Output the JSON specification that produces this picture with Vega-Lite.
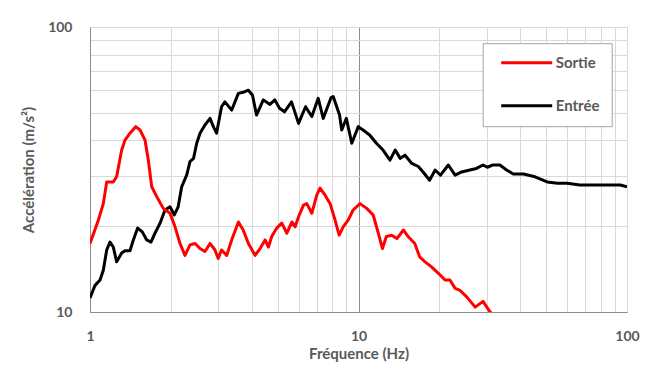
{
  "$schema": "https://vega.github.io/schema/vega-lite/v6.json",
  "width": 537,
  "height": 285,
  "autosize": {"type": "none"},
  "padding": {"left": 90, "top": 27, "right": 24, "bottom": 55},
  "background": "white",
  "config": {
    "view": {"stroke": "#8c8c8c", "strokeWidth": 1},
    "font": "Lato"
  },
  "datasets": {
    "sortie": [
      {"f": 1.0, "a": 17.4}, {"f": 1.074, "a": 21.0}, {"f": 1.121, "a": 24.0}, {"f": 1.154, "a": 28.6},
      {"f": 1.221, "a": 28.6}, {"f": 1.257, "a": 29.9}, {"f": 1.312, "a": 37.0}, {"f": 1.35, "a": 40.1},
      {"f": 1.409, "a": 42.4}, {"f": 1.48, "a": 44.7}, {"f": 1.536, "a": 43.5}, {"f": 1.603, "a": 40.1},
      {"f": 1.649, "a": 34.1}, {"f": 1.698, "a": 27.5}, {"f": 1.772, "a": 25.4}, {"f": 1.875, "a": 23.1},
      {"f": 1.986, "a": 22.2}, {"f": 2.073, "a": 19.9}, {"f": 2.163, "a": 17.4}, {"f": 2.258, "a": 15.8},
      {"f": 2.357, "a": 17.2}, {"f": 2.461, "a": 17.4}, {"f": 2.569, "a": 16.7}, {"f": 2.68, "a": 16.3},
      {"f": 2.8, "a": 17.4}, {"f": 2.92, "a": 16.5}, {"f": 3.003, "a": 15.4}, {"f": 3.09, "a": 16.5},
      {"f": 3.23, "a": 15.8}, {"f": 3.37, "a": 17.9}, {"f": 3.57, "a": 20.7}, {"f": 3.72, "a": 19.4},
      {"f": 3.89, "a": 17.4}, {"f": 4.12, "a": 15.8}, {"f": 4.3, "a": 16.7}, {"f": 4.49, "a": 17.9},
      {"f": 4.62, "a": 16.9}, {"f": 4.75, "a": 18.4}, {"f": 4.96, "a": 19.7}, {"f": 5.18, "a": 20.5},
      {"f": 5.41, "a": 18.9}, {"f": 5.65, "a": 20.7}, {"f": 5.81, "a": 19.9}, {"f": 5.98, "a": 21.6},
      {"f": 6.24, "a": 23.7}, {"f": 6.42, "a": 24.0}, {"f": 6.7, "a": 22.2}, {"f": 6.99, "a": 25.7},
      {"f": 7.19, "a": 27.2}, {"f": 7.51, "a": 25.7}, {"f": 7.84, "a": 24.0}, {"f": 8.18, "a": 21.0},
      {"f": 8.47, "a": 18.6}, {"f": 8.77, "a": 19.9}, {"f": 9.15, "a": 21.0}, {"f": 9.55, "a": 22.8},
      {"f": 10.13, "a": 24.0}, {"f": 10.73, "a": 23.1}, {"f": 11.34, "a": 21.9}, {"f": 11.85, "a": 18.9},
      {"f": 12.28, "a": 16.7}, {"f": 12.7, "a": 18.4}, {"f": 13.3, "a": 18.6}, {"f": 13.9, "a": 18.1},
      {"f": 14.7, "a": 19.4}, {"f": 15.3, "a": 18.4}, {"f": 16.2, "a": 17.4}, {"f": 16.9, "a": 15.6},
      {"f": 17.7, "a": 15.0}, {"f": 18.7, "a": 14.4}, {"f": 19.8, "a": 13.7}, {"f": 21.0, "a": 12.95},
      {"f": 21.9, "a": 12.95}, {"f": 22.9, "a": 12.1}, {"f": 23.9, "a": 11.9}, {"f": 25.3, "a": 11.3},
      {"f": 27.2, "a": 10.4}, {"f": 29.1, "a": 10.9}, {"f": 30.9, "a": 10.0}, {"f": 31.8, "a": 9.8}
    ],
    "entree": [
      {"f": 1.0, "a": 11.2}, {"f": 1.044, "a": 12.4}, {"f": 1.09, "a": 12.95}, {"f": 1.121, "a": 14.0},
      {"f": 1.154, "a": 16.5}, {"f": 1.187, "a": 17.6}, {"f": 1.221, "a": 16.9}, {"f": 1.257, "a": 15.0},
      {"f": 1.312, "a": 16.1}, {"f": 1.35, "a": 16.4}, {"f": 1.409, "a": 16.4}, {"f": 1.45, "a": 17.9},
      {"f": 1.505, "a": 19.7}, {"f": 1.566, "a": 19.1}, {"f": 1.626, "a": 17.9}, {"f": 1.687, "a": 17.6},
      {"f": 1.746, "a": 18.9}, {"f": 1.824, "a": 20.5}, {"f": 1.902, "a": 22.8}, {"f": 1.986, "a": 23.4},
      {"f": 2.06, "a": 21.9}, {"f": 2.13, "a": 23.4}, {"f": 2.195, "a": 27.5}, {"f": 2.293, "a": 30.3},
      {"f": 2.357, "a": 33.7}, {"f": 2.43, "a": 34.6}, {"f": 2.497, "a": 39.1}, {"f": 2.569, "a": 42.4},
      {"f": 2.68, "a": 45.3}, {"f": 2.8, "a": 47.8}, {"f": 2.88, "a": 44.7}, {"f": 2.96, "a": 42.4},
      {"f": 3.09, "a": 52.5}, {"f": 3.18, "a": 54.6}, {"f": 3.37, "a": 51.1}, {"f": 3.57, "a": 58.5},
      {"f": 3.72, "a": 59.0}, {"f": 3.89, "a": 60.0}, {"f": 4.03, "a": 57.6}, {"f": 4.17, "a": 49.1},
      {"f": 4.42, "a": 55.5}, {"f": 4.68, "a": 53.5}, {"f": 4.88, "a": 55.5}, {"f": 5.08, "a": 51.9},
      {"f": 5.3, "a": 50.4}, {"f": 5.63, "a": 54.6}, {"f": 5.98, "a": 45.9}, {"f": 6.35, "a": 52.5},
      {"f": 6.7, "a": 48.5}, {"f": 7.08, "a": 56.2}, {"f": 7.39, "a": 47.8}, {"f": 7.9, "a": 56.5},
      {"f": 8.05, "a": 57.0}, {"f": 8.5, "a": 49.1}, {"f": 8.66, "a": 43.5}, {"f": 9.01, "a": 47.8},
      {"f": 9.44, "a": 39.1}, {"f": 9.98, "a": 44.7}, {"f": 10.4, "a": 43.5}, {"f": 11.0, "a": 41.8},
      {"f": 11.66, "a": 39.1}, {"f": 12.34, "a": 37.0}, {"f": 13.1, "a": 34.1}, {"f": 13.7, "a": 37.0},
      {"f": 14.3, "a": 34.6}, {"f": 14.9, "a": 35.5}, {"f": 15.8, "a": 33.2}, {"f": 16.7, "a": 32.4},
      {"f": 17.4, "a": 31.0}, {"f": 18.4, "a": 29.0}, {"f": 19.3, "a": 31.5}, {"f": 20.2, "a": 30.2},
      {"f": 21.6, "a": 32.8}, {"f": 22.9, "a": 30.2}, {"f": 24.2, "a": 31.0}, {"f": 26.0, "a": 31.5},
      {"f": 27.5, "a": 31.9}, {"f": 29.1, "a": 32.8}, {"f": 30.2, "a": 32.2}, {"f": 31.7, "a": 32.8},
      {"f": 33.6, "a": 32.8}, {"f": 35.6, "a": 31.5}, {"f": 37.7, "a": 30.5}, {"f": 41.2, "a": 30.5},
      {"f": 45.0, "a": 29.9}, {"f": 50.4, "a": 28.6}, {"f": 55.1, "a": 28.3}, {"f": 60.0, "a": 28.3},
      {"f": 66.6, "a": 27.9}, {"f": 77.0, "a": 27.9}, {"f": 94.4, "a": 27.9}, {"f": 100.0, "a": 27.5}
    ]
  },
  "layer": [
    {
      "data": {"name": "entree"},
      "transform": [{"calculate": "'Entrée'", "as": "s"}],
      "mark": {"type": "line", "strokeWidth": 3, "clip": true, "strokeJoin": "round"},
      "encoding": {
        "x": {
          "field": "f", "type": "quantitative",
          "scale": {"type": "log", "domain": [1, 100]},
          "title": "Fréquence (Hz)",
          "axis": {
            "values": [1, 2, 3, 4, 5, 6, 7, 8, 9, 10, 20, 30, 40, 50, 60, 70, 80, 90, 100],
            "labelExpr": "datum.value == 1 || datum.value == 10 || datum.value == 100 ? datum.label : ''",
            "labelFlush": false, "labelOverlap": false, "labelBound": false,
            "ticks": false,
            "domainColor": "#8c8c8c",
            "gridColor": {"condition": {"test": "datum.value == 10", "value": "#8c8c8c"}, "value": "#d9d9d9"},
            "gridWidth": 1,
            "labelFontSize": 14, "labelFontWeight": "bold", "labelColor": "#595959", "labelPadding": 17,
            "titleFontSize": 15, "titleFontWeight": "bold", "titleColor": "#595959", "titlePadding": 3
          }
        },
        "y": {
          "field": "a", "type": "quantitative",
          "scale": {"type": "log", "domain": [10, 100]},
          "title": "Accélération (m/s²)",
          "axis": {
            "values": [10, 20, 30, 40, 50, 60, 70, 80, 90, 100],
            "labelExpr": "datum.value == 10 || datum.value == 100 ? datum.label : ''",
            "labelFlush": false, "labelOverlap": false, "labelBound": false,
            "ticks": false,
            "domainColor": "#8c8c8c",
            "gridColor": "#d9d9d9",
            "labelFontSize": 14, "labelFontWeight": "bold", "labelColor": "#595959", "labelPadding": 18,
            "titleFontSize": 15, "titleFontWeight": "bold", "titleColor": "#595959", "titlePadding": 11
          }
        },
        "color": {
          "field": "s", "type": "nominal",
          "scale": {"domain": ["Sortie", "Entrée"], "range": ["#ff0000", "#000000"]},
          "legend": {
            "orient": "none", "legendX": 392.7, "legendY": 16.2,
            "title": null,
            "symbolType": "M-5,0L5,0", "symbolSize": 104, "symbolStrokeWidth": 3,
            "symbolOffset": 24.5,
            "labelFontSize": 15, "labelFontWeight": "bold", "labelColor": "#595959", "labelOffset": 21.5,
            "strokeColor": "#a6a6a6", "fillColor": "white", "padding": 12, "rowPadding": 27
          }
        }
      }
    },
    {
      "data": {"name": "sortie"},
      "transform": [{"calculate": "'Sortie'", "as": "s"}],
      "mark": {"type": "line", "strokeWidth": 3, "clip": true, "strokeJoin": "round"},
      "encoding": {
        "x": {"field": "f", "type": "quantitative"},
        "y": {"field": "a", "type": "quantitative"},
        "color": {"field": "s", "type": "nominal"}
      }
    }
  ]
}
